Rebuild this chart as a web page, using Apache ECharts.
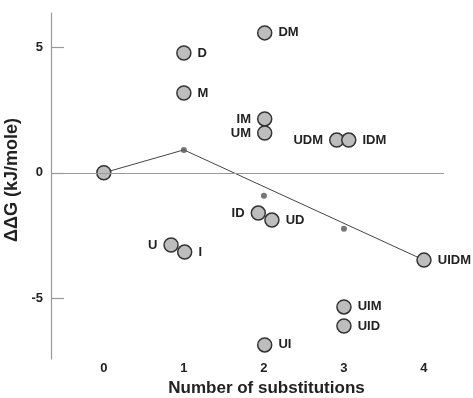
<!DOCTYPE html>
<html><head><meta charset="utf-8">
<script src="https://cdn.jsdelivr.net/npm/echarts@6/dist/echarts.min.js"></script>
<style>html,body{margin:0;padding:0;background:#fff}#c{width:473px;height:398px}</style>
</head><body><div id="c"></div>
<script>
var names = ['', 'D', 'M', 'DM', 'IM', 'UM', 'UDM', 'IDM', 'ID', 'UD', 'U', 'I', 'UI', 'UIM', 'UID', 'UIDM'];
var xs = [0, 1.0, 1.0, 2.01, 2.01, 2.01, 2.91, 3.06, 1.93, 2.1, 0.84, 1.01, 2.01, 3.0, 3.0, 4.0];
var ys = [0, 4.76, 3.17, 5.56, 2.14, 1.58, 1.30, 1.30, -1.60, -1.88, -2.87, -3.15, -6.84, -5.33, -6.09, -3.47];
var leftLabels = ['IM', 'UM', 'UDM', 'ID', 'U'];
var lineX = [0, 1, 4];
var lineY = [0, 0.91, -3.47];
var dotX = [1, 2, 3];
var dotY = [0.91, -0.91, -2.22];
var xTicks = [0, 1, 2, 3, 4];
var yTicks = [-5, 0, 5];

var FONT = '"Liberation Sans", Arial, sans-serif';
var pts = names.map(function (n, i) {
  return {
    value: [xs[i], ys[i]], name: n,
    label: { position: leftLabels.indexOf(n) >= 0 ? 'left' : 'right' }
  };
});
var chart = echarts.init(document.getElementById('c'));
chart.setOption({
  animation: false,
  backgroundColor: '#fff',
  grid: { left: 51, right: 29, top: 13, bottom: 39, containLabel: false, outerBoundsMode: 'none' },
  xAxis: {
    type: 'value', min: -0.66, max: 4.25,
    axisLine: { show: false },
    axisTick: { show: false },
    splitLine: { show: false },
    axisLabel: { customValues: xTicks, fontFamily: FONT, fontWeight: 'bold', fontSize: 13, color: '#222', margin: 3 },
    name: 'Number of substitutions', nameLocation: 'middle', nameGap: 21,
    nameTextStyle: { fontFamily: FONT, fontWeight: 'bold', fontSize: 17, color: '#222', padding: [0, 0, 0, 38] }
  },
  yAxis: {
    type: 'value', min: -7.4, max: 6.35,
    axisLine: { show: true, onZero: false, lineStyle: { color: '#999', width: 1.2 } },
    axisTick: { show: true, inside: true, length: 13, customValues: yTicks, lineStyle: { color: '#999', width: 1.2 } },
    splitLine: { show: false },
    axisLabel: { customValues: yTicks, fontFamily: FONT, fontWeight: 'bold', fontSize: 13, color: '#222', margin: 8 },
    name: 'ΔΔG (kJ/mole)', nameLocation: 'middle', nameGap: 25,
    nameTextStyle: { fontFamily: FONT, fontWeight: 'bold', fontSize: 18, color: '#222', padding: [0, 0, 0, 12] }
  },
  series: [
    {
      type: 'line', data: lineX.map(function (x, i) { return [x, lineY[i]]; }),
      symbol: 'none', lineStyle: { color: '#444', width: 1 }, z: 2,
      markLine: {
        silent: true, symbol: 'none', label: { show: false },
        lineStyle: { color: '#999', width: 1.2, type: 'solid' },
        data: [{ yAxis: 0 }]
      }
    },
    {
      type: 'scatter', data: dotX.map(function (x, i) { return [x, dotY[i]]; }),
      symbolSize: 6, itemStyle: { color: '#555' }, z: 3
    },
    {
      type: 'scatter', data: pts, symbolSize: 14, z: 4,
      itemStyle: { color: '#bdbdbd', borderColor: '#333', borderWidth: 1.5, opacity: 1 },
      label: {
        show: true, formatter: '{b}', distance: 6,
        fontFamily: FONT, fontWeight: 'bold', fontSize: 13, color: '#222'
      }
    }
  ]
});
</script></body></html>
